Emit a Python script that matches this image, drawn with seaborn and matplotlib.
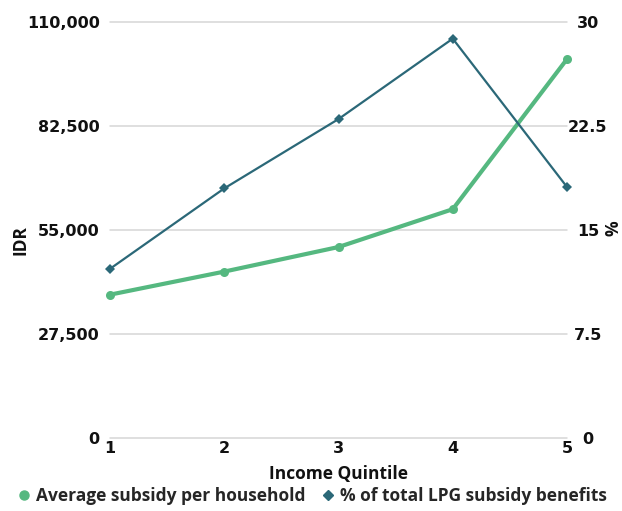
import matplotlib
matplotlib.use("Agg")
import matplotlib.pyplot as plt
import seaborn as sns
import pandas as pd
from matplotlib.lines import Line2D

quintiles = [1, 2, 3, 4, 5]
avg_subsidy = [37900, 44000, 50500, 60500, 100200]
pct_benefits = [12.2, 18.0, 23.0, 28.8, 18.1]
left_ticks = [0, 27500, 55000, 82500, 110000]
left_labels = ["0", "27,500", "55,000", "82,500", "110,000"]
right_ticks = [0, 7.5, 15, 22.5, 30]
right_labels = ["0", "7.5", "15", "22.5", "30"]
series_names = ["Average subsidy per household", "% of total LPG subsidy benefits"]

GREEN = "#55B880"
TEAL = "#2B6878"
TXT = "#111111"
FS = 12.5
NUM_FS = 11.5
NUM_FONT = ['DejaVu Sans']

sns.set_theme(style="white")
plt.rcParams['font.family'] = ['Open Sans', 'DejaVu Sans']
plt.rcParams['font.weight'] = 'bold'

df = pd.DataFrame({"q": quintiles, "avg": avg_subsidy, "pct": pct_benefits})

fig = plt.figure(figsize=(6.22, 5.11), dpi=100)
ax = fig.add_axes([110/622, 1-438/511, (567-110)/622, (438-22)/511])

sns.lineplot(data=df, x="q", y="avg", ax=ax, color=GREEN, linewidth=3,
             marker="o", markersize=6.5, markeredgewidth=0, legend=False, clip_on=False, zorder=3)
ax.set_ylim(0, 110000)
ax.set_xlim(1, 5)
ax.set_yticks(left_ticks)
ax.set_yticklabels(left_labels, family=NUM_FONT, fontweight="bold")
ax.set_xticks(quintiles)
ax.set_xticklabels([str(q) for q in quintiles], family=NUM_FONT, fontweight="bold")
ax.yaxis.grid(True, color="#d6d6d6", linewidth=1.1)
ax.xaxis.grid(False)
for gl in ax.get_ygridlines():
    gl.set_clip_on(False)
for s in ax.spines.values():
    s.set_visible(False)
ax.tick_params(axis="y", length=0, pad=7.5, labelsize=NUM_FS, labelcolor=TXT)
ax.tick_params(axis="x", length=0, pad=2.5, labelsize=NUM_FS, labelcolor=TXT)
ax.set_ylabel("IDR", fontsize=FS, fontweight="bold", color=TXT)
ax.yaxis.set_label_coords(-0.177, 0.476)
ax.set_xlabel("Income Quintile", fontsize=FS, fontweight="bold", color=TXT)
ax.xaxis.set_label_coords(0.5, -0.064)

ax2 = ax.twinx()
sns.lineplot(data=df, x="q", y="pct", ax=ax2, color=TEAL, linewidth=1.6,
             marker="D", markersize=5, markeredgewidth=0, legend=False, clip_on=False, zorder=4)
ax2.set_ylim(0, 30)
ax2.set_yticks(right_ticks)
ax2.set_yticklabels(right_labels, ha="center", family=NUM_FONT, fontweight="bold")
ax2.grid(False)
for s in ax2.spines.values():
    s.set_visible(False)
ax2.tick_params(axis="y", length=0, pad=15, labelsize=NUM_FS, labelcolor=TXT)
ax2.set_ylabel("%", fontsize=FS, fontweight="bold", color=TXT, rotation=90)
ax2.yaxis.set_label_coords(1.082, 0.505)

handles = [
    Line2D([], [], color=GREEN, marker="o", linestyle="none", markersize=6.5),
    Line2D([], [], color=TEAL, marker="D", linestyle="none", markersize=5.5),
]
fig.legend(handles, series_names, loc="center", bbox_to_anchor=(0.5, 1-496/511), ncol=2,
           frameon=False, handletextpad=0.2, columnspacing=0.8, handlelength=1.0,
           prop={"weight": "bold", "size": FS})

fig.savefig("out.png", dpi=100)
